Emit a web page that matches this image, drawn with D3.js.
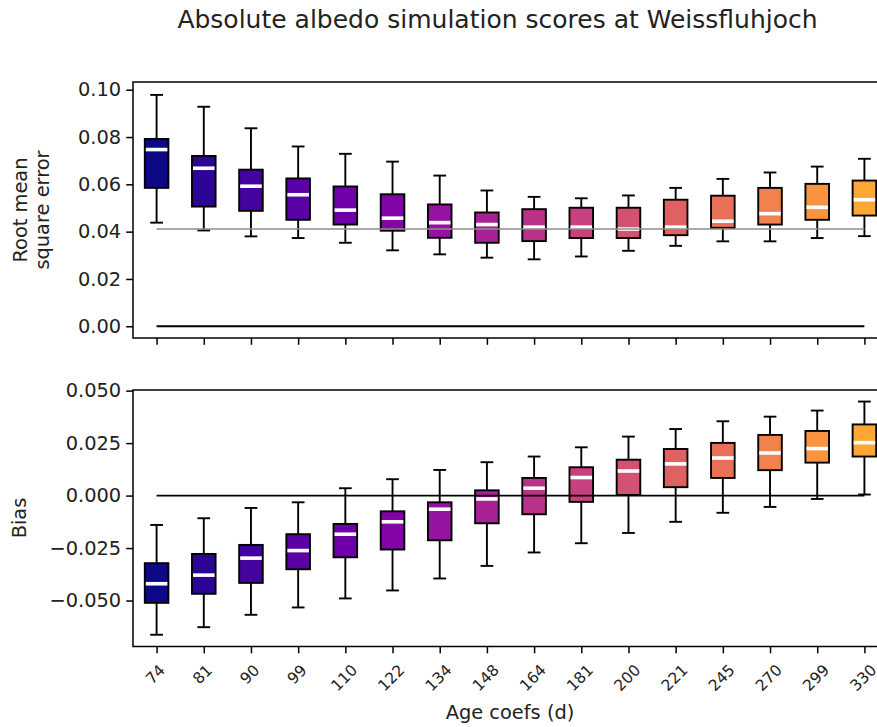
<!DOCTYPE html>
<html>
<head>
<meta charset="utf-8">
<script src="https://cdn.jsdelivr.net/npm/d3@7"></script>
<style>
  body { margin: 0; background: #fff; }
  svg { display: block; font-family: "DejaVu Sans", sans-serif; }
</style>
</head>
<body>
<div id="chart"></div>
<script>
const width = 877;
const height = 727;

// age coefficients (days)
const categories = ["74", "81", "90", "99", "110", "122", "134", "148", "164", "181", "200", "221", "245", "270", "299", "330"];

// RMSE box stats
const rmseLow  = [0.0438, 0.0405, 0.0380, 0.0373, 0.0353, 0.0321, 0.0304, 0.0290, 0.0283, 0.0295, 0.0319, 0.0340, 0.0359, 0.0359, 0.0373, 0.0381];
const rmseQ1   = [0.0585, 0.0506, 0.0488, 0.0450, 0.0430, 0.0404, 0.0374, 0.0353, 0.0360, 0.0373, 0.0373, 0.0385, 0.0416, 0.0430, 0.0450, 0.0468];
const rmseMed  = [0.0747, 0.0668, 0.0592, 0.0556, 0.0491, 0.0457, 0.0438, 0.0430, 0.0419, 0.0419, 0.0411, 0.0419, 0.0444, 0.0476, 0.0503, 0.0535];
const rmseQ3   = [0.0792, 0.0720, 0.0662, 0.0625, 0.0591, 0.0558, 0.0515, 0.0481, 0.0495, 0.0501, 0.0501, 0.0535, 0.0552, 0.0585, 0.0602, 0.0616];
const rmseHigh = [0.0978, 0.0928, 0.0837, 0.0760, 0.0729, 0.0696, 0.0637, 0.0574, 0.0547, 0.0541, 0.0553, 0.0585, 0.0623, 0.0650, 0.0675, 0.0708];
const rmseRef = 0.0411;

// bias box stats
const biasLow  = [-0.0663, -0.0627, -0.0568, -0.0533, -0.0490, -0.0452, -0.0395, -0.0335, -0.0271, -0.0227, -0.0178, -0.0125, -0.0082, -0.0054, -0.0016, 0.0005];
const biasQ1   = [-0.0511, -0.0468, -0.0416, -0.0351, -0.0294, -0.0257, -0.0213, -0.0132, -0.0089, -0.0030, 0.0003, 0.0040, 0.0084, 0.0121, 0.0157, 0.0186];
const biasMed  = [-0.0420, -0.0379, -0.0298, -0.0262, -0.0184, -0.0125, -0.0065, -0.0016, 0.0035, 0.0086, 0.0117, 0.0151, 0.0179, 0.0203, 0.0224, 0.0252];
const biasQ3   = [-0.0322, -0.0278, -0.0235, -0.0184, -0.0135, -0.0075, -0.0032, 0.0025, 0.0084, 0.0135, 0.0171, 0.0222, 0.0251, 0.0289, 0.0308, 0.0339];
const biasHigh = [-0.0140, -0.0108, -0.0059, -0.0032, 0.0035, 0.0078, 0.0122, 0.0159, 0.0186, 0.0230, 0.0281, 0.0317, 0.0354, 0.0376, 0.0405, 0.0448];
const biasRef = 0;

const rmseTicks = [0, 0.02, 0.04, 0.06, 0.08, 0.10];
const biasTicks = [-0.05, -0.025, 0, 0.025, 0.05];

const svg = d3.select("#chart")
  .append("svg")
  .attr("width", width)
  .attr("height", height);

// positions 1..16, axis spans 0.5..16.5 (right side runs off the page)
const x = d3.scaleLinear().domain([0.5, categories.length + 0.5]).range([133, 888]);
const step = x(2) - x(1);
const color = i => d3.interpolatePlasma(i / (categories.length - 1) * 0.8);

function panel(top, bottom, domain, ticks, fmt, stats, refValue, refColor, refWidth, showLabels) {
  const y = d3.scaleLinear().domain(domain).range([bottom, top]);
  const g = svg.append("g");
  const rows = categories.map((c, i) => ({
    i, pos: i + 1,
    lo: stats[0][i], q1: stats[1][i], med: stats[2][i], q3: stats[3][i], hi: stats[4][i]
  }));

  const bw = step * 0.5;
  const cw = step * 0.27;

  const box = g.selectAll("g.box").data(rows).enter().append("g").attr("class", "box");
  box.append("line")
    .attr("x1", d => x(d.pos)).attr("x2", d => x(d.pos))
    .attr("y1", d => y(d.hi)).attr("y2", d => y(d.q3))
    .attr("stroke", "#000").attr("stroke-width", 1.9);
  box.append("line")
    .attr("x1", d => x(d.pos)).attr("x2", d => x(d.pos))
    .attr("y1", d => y(d.q1)).attr("y2", d => y(d.lo))
    .attr("stroke", "#000").attr("stroke-width", 1.9);
  box.append("line")
    .attr("x1", d => x(d.pos) - cw / 2).attr("x2", d => x(d.pos) + cw / 2)
    .attr("y1", d => y(d.hi)).attr("y2", d => y(d.hi))
    .attr("stroke", "#000").attr("stroke-width", 1.9);
  box.append("line")
    .attr("x1", d => x(d.pos) - cw / 2).attr("x2", d => x(d.pos) + cw / 2)
    .attr("y1", d => y(d.lo)).attr("y2", d => y(d.lo))
    .attr("stroke", "#000").attr("stroke-width", 1.9);
  box.append("rect")
    .attr("x", d => x(d.pos) - bw / 2)
    .attr("width", bw)
    .attr("y", d => y(d.q3))
    .attr("height", d => y(d.q1) - y(d.q3))
    .attr("fill", d => color(d.i))
    .attr("stroke", "#000").attr("stroke-width", 1.9);
  box.append("line")
    .attr("x1", d => x(d.pos) - bw / 2 + 1).attr("x2", d => x(d.pos) + bw / 2 - 1)
    .attr("y1", d => y(d.med)).attr("y2", d => y(d.med))
    .attr("stroke", "#fff").attr("stroke-width", 3.6);

  // reference line
  if (refValue !== null) {
    g.append("line")
      .attr("x1", x(1)).attr("x2", x(categories.length))
      .attr("y1", y(refValue)).attr("y2", y(refValue))
      .attr("stroke", refColor).attr("stroke-width", refWidth);
  }

  // frame
  g.append("rect")
    .attr("x", x.range()[0]).attr("y", top)
    .attr("width", x.range()[1] - x.range()[0]).attr("height", bottom - top)
    .attr("fill", "none").attr("stroke", "#000").attr("stroke-width", 1.5);

  // y axis
  const yAxis = d3.axisLeft(y).tickValues(ticks).tickFormat(d3.format(fmt)).tickSize(6.8).tickPadding(5);
  const ya = g.append("g").attr("transform", `translate(${x.range()[0]},0)`).call(yAxis);
  ya.select(".domain").remove();
  ya.selectAll("line").attr("stroke-width", 1.5);
  ya.selectAll("text").attr("font-size", "19.4px").attr("fill", "#222").attr("font-family", "DejaVu Sans");

  // x axis
  const xAxis = d3.axisBottom(x).tickValues(d3.range(1, categories.length + 1)).tickSize(6.8).tickFormat("");
  const xa = g.append("g").attr("transform", `translate(0,${bottom})`).call(xAxis);
  xa.select(".domain").remove();
  xa.selectAll("line").attr("stroke-width", 1.5);

  if (showLabels) {
    const lab = g.append("g");
    categories.forEach((c, i) => {
      const t = lab.append("text")
        .attr("font-size", "15.5px")
        .attr("fill", "#222")
        .attr("text-anchor", "middle")
        .attr("dominant-baseline", "central")
        .text(c);
      const w = t.node().getComputedTextLength();
      const h = 15.5 * 0.75;
      const cy = bottom + 17 + (w + h) / (2 * Math.SQRT2);
      const cx = x(i + 1) - 1;
      t.attr("x", cx).attr("y", cy).attr("transform", `rotate(-45,${cx},${cy})`);
    });
  }
  return y;
}

panel(82, 338, [-0.00496, 0.10326], rmseTicks, ".2f",
  [rmseLow, rmseQ1, rmseMed, rmseQ3, rmseHigh], rmseRef, "#8c8c8c", 1.6, false);
// zero line on the RMSE panel
const yTopZero = d3.scaleLinear().domain([-0.00496, 0.10326]).range([338, 82]);
svg.append("line")
  .attr("x1", x(1)).attr("x2", x(categories.length))
  .attr("y1", yTopZero(0)).attr("y2", yTopZero(0))
  .attr("stroke", "#000").attr("stroke-width", 1.9);

panel(390, 646.5, [-0.0719, 0.0503], biasTicks, ".3f",
  [biasLow, biasQ1, biasMed, biasQ3, biasHigh], biasRef, "#000", 1.9, true);

// titles and axis labels
svg.append("text")
  .attr("x", 497.5).attr("y", 28)
  .attr("text-anchor", "middle")
  .attr("font-size", "25px")
  .attr("fill", "#222")
  .text("Absolute albedo simulation scores at Weissfluhjoch");

const yl = svg.append("text")
  .attr("transform", "translate(31,210) rotate(-90)")
  .attr("text-anchor", "middle")
  .attr("font-size", "19.4px")
  .attr("fill", "#222");
yl.append("tspan").attr("x", 0).attr("dy", "-0.2em").text("Root mean");
yl.append("tspan").attr("x", 0).attr("dy", "1.12em").text("square error");

svg.append("text")
  .attr("transform", "translate(26,518) rotate(-90)")
  .attr("text-anchor", "middle")
  .attr("font-size", "19.4px")
  .attr("fill", "#222")
  .text("Bias");

svg.append("text")
  .attr("x", 510).attr("y", 719)
  .attr("text-anchor", "middle")
  .attr("font-size", "19.4px")
  .attr("fill", "#222")
  .text("Age coefs (d)");
</script>
</body>
</html>
